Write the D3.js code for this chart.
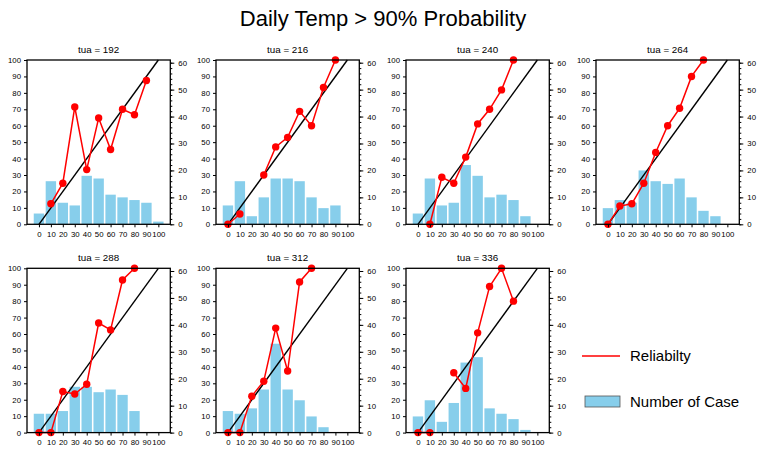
<!DOCTYPE html>
<html>
<head>
<meta charset="utf-8">
<script src="https://cdn.jsdelivr.net/npm/d3@7"></script>
<style>
  body { margin: 0; background: #fff; }
  text { font-family: "Liberation Sans", Arial, sans-serif; fill: #000; }
</style>
</head>
<body>
<div id="chart"></div>
<script>
// forecast probability bins (x axis)
const bins = [0, 10, 20, 30, 40, 50, 60, 70, 80, 90, 100];
const tuaLabels = [192, 216, 240, 264, 288, 312, 336];

// number of cases per bin (right axis)
const cases192 = [4, 16, 8, 7, 18, 17, 11, 10, 9, 8, 1];
const cases216 = [7, 16, 3, 10, 17, 17, 16, 10, 6, 7, 0];
const cases240 = [4, 17, 7, 8, 22, 18, 10, 11, 9, 3, 0];
const cases264 = [6, 9, 8, 20, 16, 15, 17, 10, 5, 3, 0];
const cases288 = [7, 7, 8, 17, 17, 15, 16, 14, 8, 0, 0];
const cases312 = [8, 7, 9, 16, 33, 16, 12, 6, 2, 0, 0];
const cases336 = [6, 12, 4, 11, 26, 28, 9, 7, 5, 1, 0];

// observed frequency per bin (left axis), null = missing
const rel192 = [null, 12.5, 25, 71.4, 33.3, 64.7, 45.5, 70, 66.7, 87.5, null];
const rel216 = [0, 6.25, null, 30, 47.1, 52.9, 68.75, 60, 83.3, 100, null];
const rel240 = [null, 0, 28.6, 25, 40.9, 61.1, 70, 81.8, 100, null, null];
const rel264 = [0, 11.1, 12.5, 25, 43.75, 60, 70.6, 90, 100, null, null];
const rel288 = [0, 0, 25, 23.5, 29.4, 66.7, 62.5, 92.9, 100, null, null];
const rel312 = [0, 0, 22.2, 31.25, 63.6, 37.5, 91.7, 100, null, null, null];
const rel336 = [0, 0, null, 36.4, 26.9, 60.7, 88.9, 100, 80, null, null];

const casesAll = [cases192, cases216, cases240, cases264, cases288, cases312, cases336];
const relAll = [rel192, rel216, rel240, rel264, rel288, rel312, rel336];

const width = 766, height = 450;
const colX = [27, 216, 406, 596];
const rowY = [60, 268.3];
const pw = 143.3, ph = 164.3;

const svg = d3.select("#chart").append("svg")
    .attr("width", width)
    .attr("height", height);

svg.append("text")
    .attr("x", width / 2)
    .attr("y", 26)
    .attr("text-anchor", "middle")
    .style("font-size", "22px")
    .text("Daily Temp > 90% Probability");

const x = d3.scaleLinear().domain([-10, 110]).range([0, pw]);
const yL = d3.scaleLinear().domain([0, 100]).range([ph, 0]);
const yR = d3.scaleLinear().domain([0, 61]).range([ph, 0]);
const barW = x(8.7) - x(0);

const line = d3.line()
    .defined(d => d[1] != null)
    .x(d => x(d[0]))
    .y(d => yL(d[1]));

tuaLabels.forEach((tua, i) => {
    const g = svg.append("g")
        .attr("transform", `translate(${colX[i % 4]},${rowY[Math.floor(i / 4)]})`);

    // bars
    g.selectAll("rect.bar")
        .data(bins.map((b, j) => [b, casesAll[i][j]]).filter(d => d[1] > 0))
        .enter().append("rect")
        .attr("class", "bar")
        .attr("x", d => x(d[0]) - barW / 2)
        .attr("y", d => yR(d[1]))
        .attr("width", barW)
        .attr("height", d => ph - yR(d[1]))
        .attr("fill", "#87ceeb");

    // perfect reliability diagonal
    g.append("line")
        .attr("x1", x(0)).attr("y1", yL(0))
        .attr("x2", x(100)).attr("y2", yL(100))
        .attr("stroke", "#000")
        .attr("stroke-width", 1.4);

    const pts = bins.map((b, j) => [b, relAll[i][j]]);
    g.append("path")
        .datum(pts)
        .attr("d", line)
        .attr("fill", "none")
        .attr("stroke", "#ff0000")
        .attr("stroke-width", 1.5);

    g.selectAll("circle")
        .data(pts.filter(d => d[1] != null))
        .enter().append("circle")
        .attr("cx", d => x(d[0]))
        .attr("cy", d => yL(d[1]))
        .attr("r", 3.7)
        .attr("fill", "#ff0000");

    // axes
    const ax = g.append("g").attr("transform", `translate(0,${ph})`)
        .call(d3.axisBottom(x).tickValues(bins).tickSize(3).tickPadding(4));
    const ay = g.append("g")
        .call(d3.axisLeft(yL).tickValues(d3.range(0, 101, 10)).tickSize(3).tickPadding(3));
    const ayr = g.append("g").attr("transform", `translate(${pw},0)`)
        .call(d3.axisRight(yR).tickValues(d3.range(0, 61, 10)).tickSize(4).tickPadding(4));
    const aym = g.append("g").attr("transform", `translate(${pw},0)`)
        .call(d3.axisRight(yR).tickValues(d3.range(0, 61, 2)).tickSize(2).tickFormat(""));
    [ax, ay, ayr, aym].forEach(a => {
        a.select(".domain").remove();
        a.selectAll("text").style("font-size", "7.8px").attr("fill", "#000");
        a.selectAll("line").attr("stroke", "#000");
    });

    g.append("rect")
        .attr("width", pw).attr("height", ph)
        .attr("fill", "none")
        .attr("stroke", "#000")
        .attr("stroke-width", 1.3);

    g.append("text")
        .attr("x", pw / 2)
        .attr("y", -7)
        .attr("text-anchor", "middle")
        .style("font-size", "9.8px")
        .text("tua = " + tua);
});

// legend
const lg = svg.append("g");
lg.append("line")
    .attr("x1", 582).attr("x2", 620)
    .attr("y1", 356).attr("y2", 356)
    .attr("stroke", "#ff0000").attr("stroke-width", 1.3);
lg.append("text").attr("x", 630).attr("y", 361)
    .style("font-size", "15px").text("Reliabilty");
lg.append("rect")
    .attr("x", 585).attr("y", 396)
    .attr("width", 35).attr("height", 11)
    .attr("fill", "#87ceeb").attr("stroke", "#555").attr("stroke-width", 0.8);
lg.append("text").attr("x", 630).attr("y", 407)
    .style("font-size", "15px").text("Number of Case");
</script>
</body>
</html>
